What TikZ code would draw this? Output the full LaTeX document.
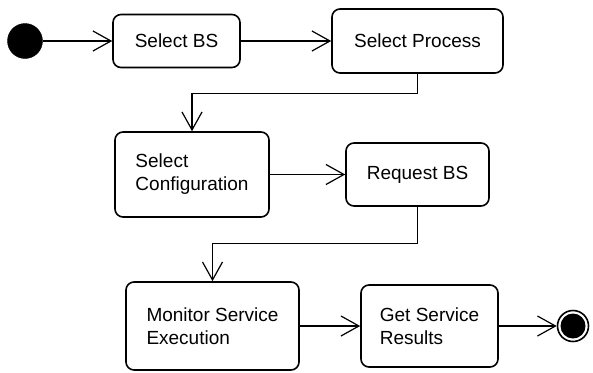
\documentclass[tikz,border=0pt]{standalone}
\usepackage{fontspec}
\setmainfont{Liberation Sans}
\usetikzlibrary{arrows.meta,positioning,calc}
\tikzset{
  % Activity: rounded box, heavy border
  actbox/.style={draw, rectangle, rounded corners=8pt, line width=1.6pt, fill=white,
                 align=center, inner sep=0pt, font=\fontsize{19}{23}\selectfont},
  actbox-two/.style={actbox, align=left},
  % Start / end markers
  initnode/.style={circle, fill=black, draw=black, minimum size=35pt, inner sep=0pt},
  finalnode/.style={circle, draw=black, line width=1.6pt, fill=white, minimum size=31pt, inner sep=0pt,
                    path picture={\fill[black] (path picture bounding box.center) circle (12.5pt);}},
  % Transitions
  flowarr/.style={-{Straight Barb[length=18pt, width=20pt, line width=1.2pt]}, line width=1.2pt}
}

\begin{document}
\begin{tikzpicture}[x=1pt, y=-1pt]
\useasboundingbox (0,0) rectangle (593,372);

% Row 1: start -> Select BS -> Select Process
\node[initnode] (start) at (25,41) {};
\node[actbox, minimum width=127pt, minimum height=53pt] (selbs) at (176.5,41) {Select BS};
\node[actbox, minimum width=171pt, minimum height=64pt] (selproc) at (417.5,41) {Select Process};

% Row 2: Select Configuration -> Request BS
\node[actbox-two, minimum width=154pt, minimum height=85pt] (selcfg) at (192,174.5) {Select\\Configuration};
\node[actbox, minimum width=143pt, minimum height=63pt] (reqbs) at (417.5,174.5) {Request BS};

% Row 3: Monitor Service Execution -> Get Service Results -> end
\node[actbox-two, minimum width=173pt, minimum height=88pt] (monitor) at (212.5,326) {Monitor Service\\Execution};
\node[actbox-two, minimum width=137pt, minimum height=82pt] (results) at (429.5,326) {Get Service\\Results};
\node[finalnode] (stop) at (573,326) {};

% Arrows
\draw[flowarr] (start) -- (selbs);
\draw[flowarr] (selbs) -- (selproc);
\draw[flowarr] (selproc.south) -- ++(0,20) -| (selcfg.north);
\draw[flowarr] (selcfg) -- (reqbs);
\draw[flowarr] (reqbs.south) -- ++(0,37) -| (monitor.north);
\draw[flowarr] (monitor) -- (results);
\draw[flowarr] (results) -- (stop);

\end{tikzpicture}
\end{document}
